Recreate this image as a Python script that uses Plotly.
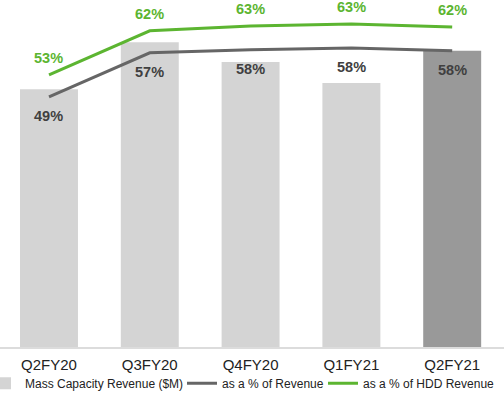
import plotly.graph_objects as go

quarters = ["Q2FY20", "Q3FY20", "Q4FY20", "Q1FY21", "Q2FY21"]
mass_capacity_rev = [1040, 1230, 1150, 1065, 1195]
pct_of_revenue = [48.5, 57.5, 58.1, 58.5, 57.9]
pct_of_revenue_labels = ["49%", "57%", "58%", "58%", "58%"]
pct_of_hdd_revenue = [53.0, 62.0, 63.0, 63.4, 62.8]
pct_of_hdd_labels = ["53%", "62%", "63%", "63%", "62%"]

bar_colors = ["#d4d4d4", "#d4d4d4", "#d4d4d4", "#d4d4d4", "#999999"]
GRAY_LINE = "#666666"
GREEN = "#5cb531"
FONT = "Liberation Sans, Arial, sans-serif"

fig = go.Figure()
fig.add_trace(go.Bar(
    x=quarters, y=mass_capacity_rev, name="Mass Capacity Revenue ($M)",
    marker=dict(color=bar_colors, line=dict(width=0)), width=0.575,
    legendwidth=167,
))
fig.add_trace(go.Scatter(
    x=quarters, y=pct_of_revenue, name="as a % of Revenue", yaxis="y2",
    mode="lines", line=dict(color=GRAY_LINE, width=3), legendwidth=111,
))
fig.add_trace(go.Scatter(
    x=quarters, y=pct_of_hdd_revenue, name="as a % of HDD Revenue", yaxis="y2",
    mode="lines", line=dict(color=GREEN, width=3), legendwidth=135,
))

annotations = []
for q, v, t in zip(quarters, pct_of_revenue, pct_of_revenue_labels):
    annotations.append(dict(x=q, y=v, yref="y2", text=t, showarrow=False, yshift=-19,
                            font=dict(family=FONT, size=14.5, color="#404040", weight="bold")))
for q, v, t in zip(quarters, pct_of_hdd_revenue, pct_of_hdd_labels):
    annotations.append(dict(x=q, y=v, yref="y2", text=t, showarrow=False, yshift=17,
                            font=dict(family=FONT, size=14.5, color=GREEN, weight="bold")))

fig.update_layout(
    width=504, height=394,
    margin=dict(l=0, r=0, t=0, b=47, autoexpand=False),
    paper_bgcolor="white", plot_bgcolor="white",
    font=dict(family=FONT, color="#222222"),
    showlegend=True,
    legend=dict(orientation="h", x=0, xanchor="left", y=-0.063, yanchor="top",
                font=dict(size=12, color="#222222"), itemwidth=30, indentation=-15,
                tracegroupgap=0, bgcolor="rgba(0,0,0,0)"),
    xaxis=dict(range=[-0.486, 4.514], showgrid=False, zeroline=False, automargin=False,
               showline=True, linecolor="#dcdcdc", linewidth=1.5, ticklabelstandoff=3,
               ticks="", tickfont=dict(size=15, color="#222222")),
    yaxis=dict(range=[0, 1400], visible=False, showgrid=False),
    yaxis2=dict(range=[-2.7, 68.3], overlaying="y", visible=False, showgrid=False),
    annotations=annotations,
)

fig.write_html("out.html", config={"displayModeBar": False},
               post_script="document.body.style.margin='0px';")
